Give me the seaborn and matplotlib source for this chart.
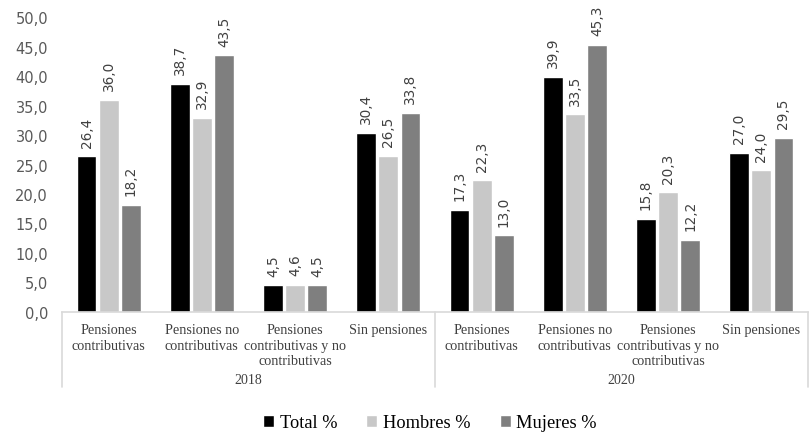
import numpy as np
import pandas as pd
import matplotlib
matplotlib.use("Agg")
import matplotlib.pyplot as plt
import seaborn as sns

years = ["2018", "2020"]
categories = [
    "Pensiones\ncontributivas",
    "Pensiones no\ncontributivas",
    "Pensiones\ncontributivas y no\ncontributivas",
    "Sin pensiones",
]
series = ["Total %", "Hombres %", "Mujeres %"]
total = [26.4, 38.7, 4.5, 30.4, 17.3, 39.9, 15.8, 27.0]
hombres = [36.0, 32.9, 4.6, 26.5, 22.3, 33.5, 20.3, 24.0]
mujeres = [18.2, 43.5, 4.5, 33.8, 13.0, 45.3, 12.2, 29.5]
colors = ["#000000", "#C8C8C8", "#7F7F7F"]

# long-form table: one row per (year, category, series)
keys = [f"{y}|{c}" for y in years for c in categories]
rows = []
for name, vals in zip(series, [total, hombres, mujeres]):
    for k, v in zip(keys, vals):
        rows.append({"grupo": k, "serie": name, "valor": v})
df = pd.DataFrame(rows)

sns.set_theme(style="white")
plt.rcParams["font.family"] = ["DejaVu Sans"]

fig = plt.figure(figsize=(8.12, 4.35), dpi=100)
ax = fig.add_axes([62 / 812, 122 / 435, 746 / 812, 295 / 435])

sns.barplot(data=df, x="grupo", y="valor", hue="serie", order=keys,
            hue_order=series, palette=colors, width=0.71, gap=0.1,
            saturation=1, errorbar=None, ax=ax, legend=True)

ax.set_ylim(0, 50)
ax.set_xlim(-0.5, len(keys) - 0.5)
ax.set_yticks(np.arange(0, 50.1, 5))
ax.set_yticklabels([f"{t:.1f}".replace(".", ",") for t in np.arange(0, 50.1, 5)],
                   fontsize=10.5, color="#595959")
ax.tick_params(axis="y", length=0, pad=10)
ax.tick_params(axis="x", length=0, pad=8)
ax.set_xlabel("")
ax.set_ylabel("")
for s in ["top", "right", "left"]:
    ax.spines[s].set_visible(False)
ax.spines["bottom"].set_color("#D9D9D9")
ax.spines["bottom"].set_linewidth(1.2)

# value labels above each bar, rotated
for cont in ax.containers:
    labels = [f"{b.get_height():.1f}".replace(".", ",") for b in cont]
    ax.bar_label(cont, labels=labels, rotation=90, padding=7,
                 fontsize=9.8, color="#404040", clip_on=False)

# category labels (first level)
ax.set_xticks(range(len(keys)))
ax.set_xticklabels([k.split("|")[1] for k in keys], family="Liberation Serif",
                   fontsize=10.2, color="#404040", va="top", linespacing=1.25)

# year labels (second level) and separators
tr = ax.get_xaxis_transform()
for i, y in enumerate(years):
    ax.text(i * 4 + 1.5, -0.23, y, transform=tr, ha="center", va="center",
            family="Liberation Serif", fontsize=10, color="#404040")
for xs in [-0.5, 3.5, 7.5]:
    ax.plot([xs, xs], [0, -0.254], transform=tr, color="#D9D9D9", lw=1.2,
            clip_on=False)

leg = ax.legend(loc="center", bbox_to_anchor=(430 / 812, 11 / 435),
                bbox_transform=fig.transFigure, ncol=3, frameon=False,
                prop={"family": "Liberation Serif", "size": 13.2},
                handlelength=0.6, handleheight=0.6, handletextpad=0.3,
                columnspacing=1.6, labelcolor="#000000",
                borderpad=0.1)

fig.savefig("out.png", dpi=100)
